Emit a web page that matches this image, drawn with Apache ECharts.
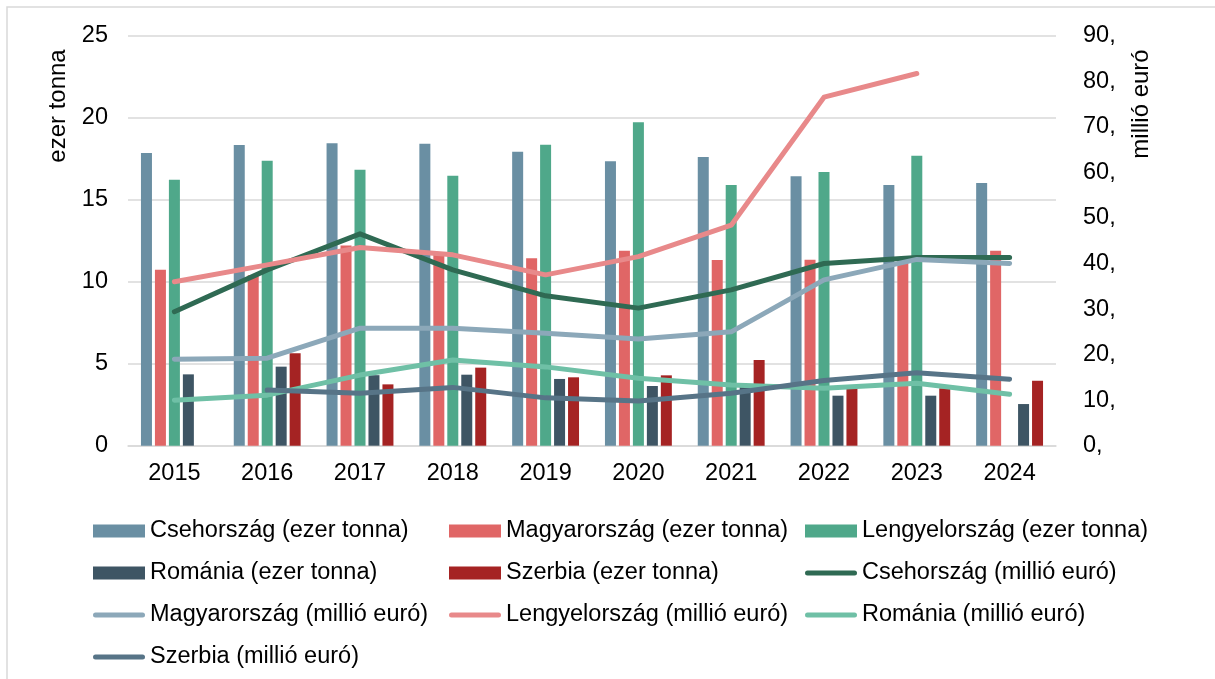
<!DOCTYPE html>
<html>
<head>
<meta charset="utf-8">
<script src="https://cdn.jsdelivr.net/npm/echarts@6/dist/echarts.min.js"></script>
<style>
  html, body { margin: 0; padding: 0; background: #fff; }
  #chart { width: 1215px; height: 679px; }
</style>
</head>
<body>
<div id="chart"></div>
<script>
// évek
const years = ["2015", "2016", "2017", "2018", "2019", "2020", "2021", "2022", "2023", "2024"];

// mennyiség (ezer tonna) - bal tengely
const csehTonna = [17.85, 18.34, 18.44, 18.41, 17.93, 17.34, 17.6, 16.43, 15.9, 16.02];
const magyarTonna = [10.73, 10.4, 12.2, 11.7, 11.43, 11.89, 11.32, 11.34, 11.3, 11.89];
const lengyelTonna = [16.22, 17.38, 16.83, 16.46, 18.35, 19.72, 15.9, 16.69, 17.68, null];
const romanTonna = [4.35, 4.82, 4.3, 4.33, 4.07, 3.64, 3.7, 3.05, 3.05, 2.54];
const szerbTonna = [null, 5.63, 3.74, 4.76, 4.17, 4.29, 5.23, 3.7, 3.5, 3.96];

// érték (millió euró) - jobb tengely
const csehEuro = [29.4, 38.6, 46.5, 38.6, 32.9, 30.2, 34.2, 40.0, 41.3, 41.3];
const magyarEuro = [19.0, 19.2, 25.8, 25.8, 24.7, 23.4, 25.0, 36.4, 40.9, 40.0];
const lengyelEuro = [36.0, 39.7, 43.5, 41.9, 37.5, 41.5, 48.4, 76.5, 81.7, null];
const romanEuro = [10.0, 11.1, 15.5, 18.8, 17.3, 14.8, 13.3, 12.6, 13.7, 11.3];
const szerbEuro = [null, 12.2, 11.5, 12.8, 10.5, 9.8, 11.5, 14.3, 16.0, 14.6];

const font = "Liberation Sans, Arial, sans-serif";
const chart = echarts.init(document.getElementById("chart"));

// vonalas jelmagyarázat ikon (lekerekített vastag vonal)
const lineIcon = "path://M2.5,0 L49.5,0 A2.5,2.5 0 0 1 49.5,5 L2.5,5 A2.5,2.5 0 0 1 2.5,0 Z";

const bar = (name, data, color) => ({
  name,
  type: "bar",
  yAxisIndex: 0,
  barWidth: 11,
  barGap: "27%",
  itemStyle: { color },
  data,
});
const line = (name, data, color) => ({
  name,
  type: "line",
  yAxisIndex: 1,
  symbol: "none",
  z: 5,
  lineStyle: { color, width: 5, cap: "round", join: "round" },
  itemStyle: { color },
  data,
});

const legendItem = (name) =>
  name.indexOf("millió") >= 0 ? { name, icon: lineIcon } : { name, icon: "rect" };

const legendBase = {
  orient: "vertical",
  top: 513,
  itemWidth: 52,
  itemHeight: 13,
  itemGap: 16,
  symbolKeepAspect: true,
  textStyle: { fontFamily: font, fontSize: 23.5, color: "#000", lineHeight: 26 },
};

const option = {
  animation: false,
  backgroundColor: "#fff",
  textStyle: { fontFamily: font },
  graphic: [
    {
      type: "rect",
      shape: { x: 7, y: 7, width: 1400, height: 900 },
      style: { fill: "none", stroke: "#d9d9d9", lineWidth: 1.5 },
      silent: true,
    },
    {
      type: "text",
      x: 58,
      y: 106,
      rotation: Math.PI / 2,
      style: { text: "ezer tonna", font: "24px " + font, fill: "#000", align: "center", verticalAlign: "middle" },
    },
    {
      type: "text",
      x: 1141,
      y: 104,
      rotation: Math.PI / 2,
      style: { text: "millió euró", font: "24px " + font, fill: "#000", align: "center", verticalAlign: "middle" },
    },
  ],
  legend: [
    Object.assign({}, legendBase, {
      left: 88,
      data: ["Csehország (ezer tonna)", "Románia (ezer tonna)", "Magyarország (millió euró)", "Szerbia (millió euró)"].map(legendItem),
    }),
    Object.assign({}, legendBase, {
      left: 444,
      data: ["Magyarország (ezer tonna)", "Szerbia (ezer tonna)", "Lengyelország (millió euró)"].map(legendItem),
    }),
    Object.assign({}, legendBase, {
      left: 800,
      data: ["Lengyelország (ezer tonna)", "Csehország (millió euró)", "Románia (millió euró)"].map(legendItem),
    }),
  ],
  grid: { left: 128, right: 159, top: 35.7, bottom: 233.3, containLabel: false },
  xAxis: {
    type: "category",
    data: years,
    axisTick: { show: false },
    axisLine: { lineStyle: { color: "#d9d9d9", width: 1.5 } },
    axisLabel: { color: "#000", fontSize: 23.5, fontFamily: font, margin: 16 },
  },
  yAxis: [
    {
      type: "value",
      min: 0,
      max: 25,
      interval: 5,
      axisLine: { show: false },
      axisTick: { show: false },
      splitLine: { lineStyle: { color: "#d9d9d9", width: 1.5 } },
      axisLabel: { color: "#000", fontSize: 23.5, fontFamily: font, margin: 20 },
    },
    {
      type: "value",
      min: 0,
      max: 90,
      interval: 10,
      axisLine: { show: false },
      axisTick: { show: false },
      splitLine: { show: false },
      axisLabel: { color: "#000", fontSize: 23.5, fontFamily: font, margin: 27, formatter: "{value}," },
    },
  ],
  series: [
    bar("Csehország (ezer tonna)", csehTonna, "#6a8fa3"),
    bar("Magyarország (ezer tonna)", magyarTonna, "#e06666"),
    bar("Lengyelország (ezer tonna)", lengyelTonna, "#4fa88a"),
    bar("Románia (ezer tonna)", romanTonna, "#3e5564"),
    bar("Szerbia (ezer tonna)", szerbTonna, "#a52323"),
    line("Csehország (millió euró)", csehEuro, "#2f6a53"),
    line("Magyarország (millió euró)", magyarEuro, "#8ca8b9"),
    line("Lengyelország (millió euró)", lengyelEuro, "#e8898a"),
    line("Románia (millió euró)", romanEuro, "#6fc0a6"),
    line("Szerbia (millió euró)", szerbEuro, "#577487"),
  ],
};

chart.setOption(option);
</script>
</body>
</html>
